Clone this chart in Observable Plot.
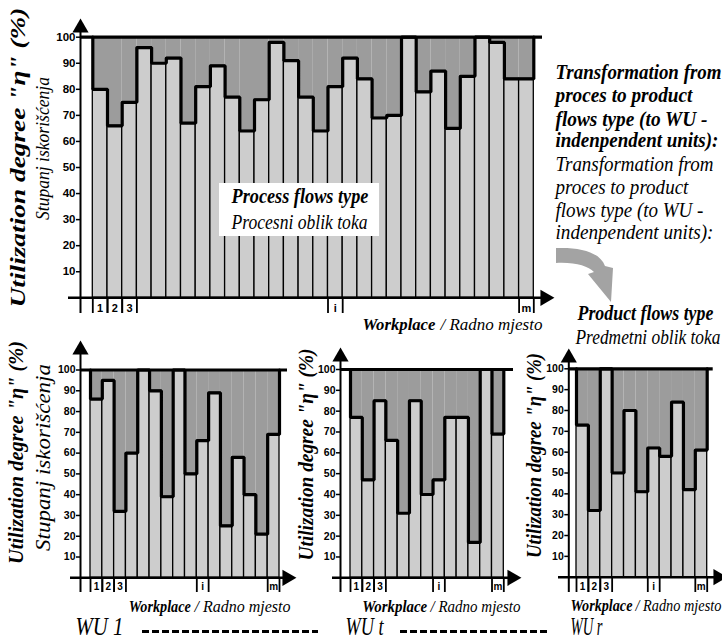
<!DOCTYPE html>
<html><head><meta charset="utf-8">
<script src="https://cdn.jsdelivr.net/npm/d3@7"></script>
<script src="https://cdn.jsdelivr.net/npm/@observablehq/plot@0.6"></script>
<style>
html,body{margin:0;padding:0;background:#fff;}
#page{position:relative;width:722px;height:639px;overflow:hidden;background:#fff;}
#page svg{position:absolute;left:0;top:0;}
</style></head><body><div id="page"></div>
<script>
// ---------- data ----------
const yTicks = [10, 20, 30, 40, 50, 60, 70, 80, 90, 100];
const workplaceLabels = ["1", "2", "3", "i", "m"];

const processValues = [80, 66, 75, 96, 90, 92, 67, 81, 89, 77, 64, 76, 98, 91, 77,
                       64, 81, 92, 84, 69, 70, 100, 79, 87, 65, 85, 100, 98, 84, 84];
const processLabelAt = [0, 1, 2, 16, 29];

const wu1Values = [86, 95, 32, 60, 100, 90, 39, 100, 50, 66, 89, 25, 58, 40, 21, 69];
const wu1LabelAt = [0, 1, 2, 9, 15];

const wutValues = [77, 47, 85, 66, 31, 85, 40, 47, 77, 77, 17, 100, 69];
const wutLabelAt = [0, 1, 2, 7, 12];

const wurValues = [73, 32, 100, 50, 80, 41, 62, 58, 84, 42, 61];
const wurLabelAt = [0, 1, 2, 6, 10];

const yTitle = "Utilization degree \"\u03b7\" (%)";
const yTitleHr = "Stupanj iskori\u0161\u0107enja";
const xTitleEn = "Workplace";
const xTitleHr = "/ Radno mjesto";
const transformBold = ["Transformation from", "proces to product", "flows type (to WU -", "indenpendent units):"];
const transformReg = ["Transformation from", "proces to product", "flows type (to WU -", "indenpendent units):"];

// ---------- style ----------
const W = 722, H = 639;
const LIGHT = "#cdcdcd", DARK = "#9c9c9c";
const SERIF = "'Liberation Serif', 'DejaVu Serif', serif";
const SANS = "'Liberation Sans', Arial, sans-serif";
const page = document.getElementById("page");

function chart(cfg) {
  const n = cfg.values.length;
  const px = d3.scaleLinear().domain([cfg.x0, cfg.x1]).range([0, n]);
  const py = d3.scaleLinear().domain([cfg.y0, cfg.y100]).range([0, 100]);
  const bars = cfg.values.map((v, i) => ({i, v}));
  const outline = [{x: 0, y: 100}];
  bars.forEach(d => { outline.push({x: d.i, y: d.v}, {x: d.i + 1, y: d.v}); });
  outline.push({x: n, y: 100});
  const tickBounds = cfg.labelAt.flatMap(i => [i, i + 1]);
  const labels = cfg.labelAt.map((i, k) => ({i, t: workplaceLabels[k]}));
  const fitted = [];
  function txt(str, x, y, o) {
    fitted.push({str, len: o.len});
    return Plot.text([str], {
      x: px(x), y: py(y), text: d => d,
      fontFamily: SERIF, fontSize: o.size,
      fontStyle: "italic", fontWeight: o.weight || "normal",
      textAnchor: o.anchor || "start", lineAnchor: o.line || "bottom",
      rotate: o.rotate || 0, fill: "black"
    });
  }
  function dashes(x1, x2, y) {
    return Plot.ruleY([py(y)], {x1: px(x1), x2: px(x2), stroke: "black", strokeWidth: 3, strokeDasharray: "7 3"});
  }
  const marks = [
    Plot.rect(bars, {x1: "i", x2: d => d.i + 1, y1: "v", y2: () => 100, fill: DARK}),
    Plot.rect(bars, {x1: "i", x2: d => d.i + 1, y1: () => 0, y2: "v", fill: LIGHT, stroke: "black", strokeWidth: 1.3}),
    Plot.line(outline, {x: "x", y: "y", stroke: "black", strokeWidth: 3.2, strokeLinejoin: "miter"}),
    Plot.ruleY([100], {x1: px(cfg.ax), x2: px(cfg.topRight), stroke: "black", strokeWidth: 3.2}),
    Plot.ruleX([px(cfg.ax)], {y1: py(cfg.tickBottom), y2: py(cfg.arrowTop + 12), stroke: "black", strokeWidth: 2}),
    Plot.dot([0], {x: px(cfg.ax), y: py(cfg.arrowTop + 9.4), symbol: "triangle", r: 6, fill: "black", stroke: "none"}),
    Plot.ruleY([0], {x1: px(cfg.xLeft), x2: px(cfg.xTip - 12), stroke: "black", strokeWidth: 2.5}),
    Plot.dot([0], {x: px(cfg.xTip - 9.4), y: 0, symbol: "triangle", rotate: 90, r: 6, fill: "black", stroke: "none"}),
    Plot.ruleX(tickBounds, {y1: () => 0, y2: () => py(cfg.tickBottom), stroke: "black", strokeWidth: 1.8}),
    Plot.ruleY(yTicks, {x1: px(cfg.ax - 4), x2: px(cfg.ax), stroke: "black", strokeWidth: 1.5}),
    Plot.text(yTicks, {x: px(cfg.ax - 5), y: d => d, text: d => String(d), textAnchor: "end", lineAnchor: "middle",
      fontFamily: SANS, fontWeight: "bold", fontSize: cfg.tickSize, fill: "black"}),
    Plot.text(labels, {x: d => d.i + 0.5, y: () => py(cfg.labelY), text: "t", lineAnchor: "middle",
      fontFamily: SANS, fontWeight: "bold", fontSize: cfg.labelSize, fill: "black"}),
    ...cfg.extra(txt, px, py, dashes)
  ];
  const svg = Plot.plot({
    width: W, height: H, margin: 0,
    x: {domain: [0, n], range: [cfg.x0, cfg.x1], axis: null},
    y: {domain: [0, 100], range: [cfg.y0, cfg.y100], axis: null},
    marks
  });
  svg.style.background = "transparent";
  page.appendChild(svg);
  // condense serif labels horizontally to the reference widths
  const pending = fitted.slice();
  svg.querySelectorAll("text").forEach(t => {
    const k = pending.findIndex(p => p.str === t.textContent);
    if (k >= 0) {
      const p = pending[k];
      const w = t.getComputedTextLength();
      if (p.len && w > 0) {
        const tr = t.getAttribute("transform") || "";
        t.setAttribute("transform", tr + " scale(" + (p.len / w).toFixed(4) + ",1)");
      }
      pending.splice(k, 1);
    }
  });
  return svg;
}

// ---------- top: process flows ----------
const topSvg = chart({
  values: processValues, labelAt: processLabelAt,
  ax: 80, x0: 92.3, x1: 533.3, y0: 297.3, y100: 36.7,
  arrowTop: 18, xLeft: 68, xTip: 554, topRight: 542, tickBottom: 313, labelY: 308,
  tickSize: 11.5, labelSize: 11,
  extra: (txt, px, py) => [
    txt(yTitle, 17, 157, {size: 22, weight: "bold", anchor: "middle", line: "middle", rotate: -90, len: 300}),
    txt(yTitleHr, 42, 148, {size: 19, anchor: "middle", line: "middle", rotate: -90, len: 143}),
    Plot.rect([0], {x1: px(219), x2: px(379), y1: py(236), y2: py(183), fill: "white"}),
    txt("Process flows type", 231, 202, {size: 21, weight: "bold", len: 137}),
    txt("Procesni oblik toka", 231, 228, {size: 21, len: 136}),
    txt(xTitleEn, 362, 329, {size: 16, weight: "bold", len: 73}),
    txt(xTitleHr, 440, 329, {size: 16, len: 102}),
    ...transformBold.map((s, k) => txt(s, 555, [78.3, 101.7, 125, 146.7][k], {size: 20, weight: "bold", len: [166, 137, 152, 163][k]})),
    ...transformReg.map((s, k) => txt(s, 555, [170, 193.3, 216.7, 238.3][k], {size: 20, len: [158, 133, 148, 158][k]})),
    txt("Product flows type", 577, 319, {size: 21, weight: "bold", len: 136}),
    txt("Predmetni oblik toka", 575, 343, {size: 20, len: 145})
  ]
});
// curved transformation arrow
d3.select(topSvg).append("path")
  .attr("d", "M556,248 C580,247 600,252 605,266 L613,268 L611,302 L588,274 L594,272 C588,266 575,262 556,263 Z")
  .attr("fill", "#a3a3a3");

// ---------- WU 1 ----------
chart({
  values: wu1Values, labelAt: wu1LabelAt,
  ax: 80, x0: 90, x1: 279, y0: 577.3, y100: 369.5,
  arrowTop: 340, xLeft: 70, xTip: 296, topRight: 287, tickBottom: 592, labelY: 586,
  tickSize: 10.5, labelSize: 10,
  extra: (txt, px, py, dashes) => [
    txt(yTitle, 15, 452, {size: 22, weight: "bold", anchor: "middle", line: "middle", rotate: -90, len: 223}),
    txt(yTitleHr, 42, 457, {size: 22, anchor: "middle", line: "middle", rotate: -90, len: 187}),
    txt(xTitleEn, 128.3, 611, {size: 16, weight: "bold", len: 62}),
    txt(xTitleHr, 194, 611, {size: 16, len: 96}),
    txt("WU 1", 75, 634, {size: 25, len: 48}),
    dashes(142, 318, 631)
  ]
});

// ---------- WU t ----------
chart({
  values: wutValues, labelAt: wutLabelAt,
  ax: 340, x0: 350, x1: 503.3, y0: 577.3, y100: 369,
  arrowTop: 347, xLeft: 332, xTip: 521, topRight: 513, tickBottom: 592, labelY: 586,
  tickSize: 10.5, labelSize: 10,
  extra: (txt, px, py, dashes) => [
    txt(yTitle, 305, 454, {size: 22, weight: "bold", anchor: "middle", line: "middle", rotate: -90, len: 212}),
    txt(xTitleEn, 361.7, 611, {size: 16, weight: "bold", len: 65}),
    txt(xTitleHr, 430, 611, {size: 16, len: 90}),
    txt("WU t", 345, 634, {size: 25, len: 38}),
    dashes(400, 550, 631)
  ]
});

// ---------- WU r ----------
chart({
  values: wurValues, labelAt: wurLabelAt,
  ax: 568.3, x0: 576, x1: 706.7, y0: 576.7, y100: 368.3,
  arrowTop: 348, xLeft: 558, xTip: 727, topRight: 712.7, tickBottom: 592, labelY: 586,
  tickSize: 10.5, labelSize: 10,
  extra: (txt, px, py, dashes) => [
    txt(yTitle, 533, 455, {size: 22, weight: "bold", anchor: "middle", line: "middle", rotate: -90, len: 205}),
    txt(xTitleEn, 570, 610, {size: 16, weight: "bold", len: 62}),
    txt(xTitleHr, 635, 610, {size: 16, len: 86}),
    txt("WU r", 570, 634, {size: 25, len: 32})
  ]
});
</script></body></html>
